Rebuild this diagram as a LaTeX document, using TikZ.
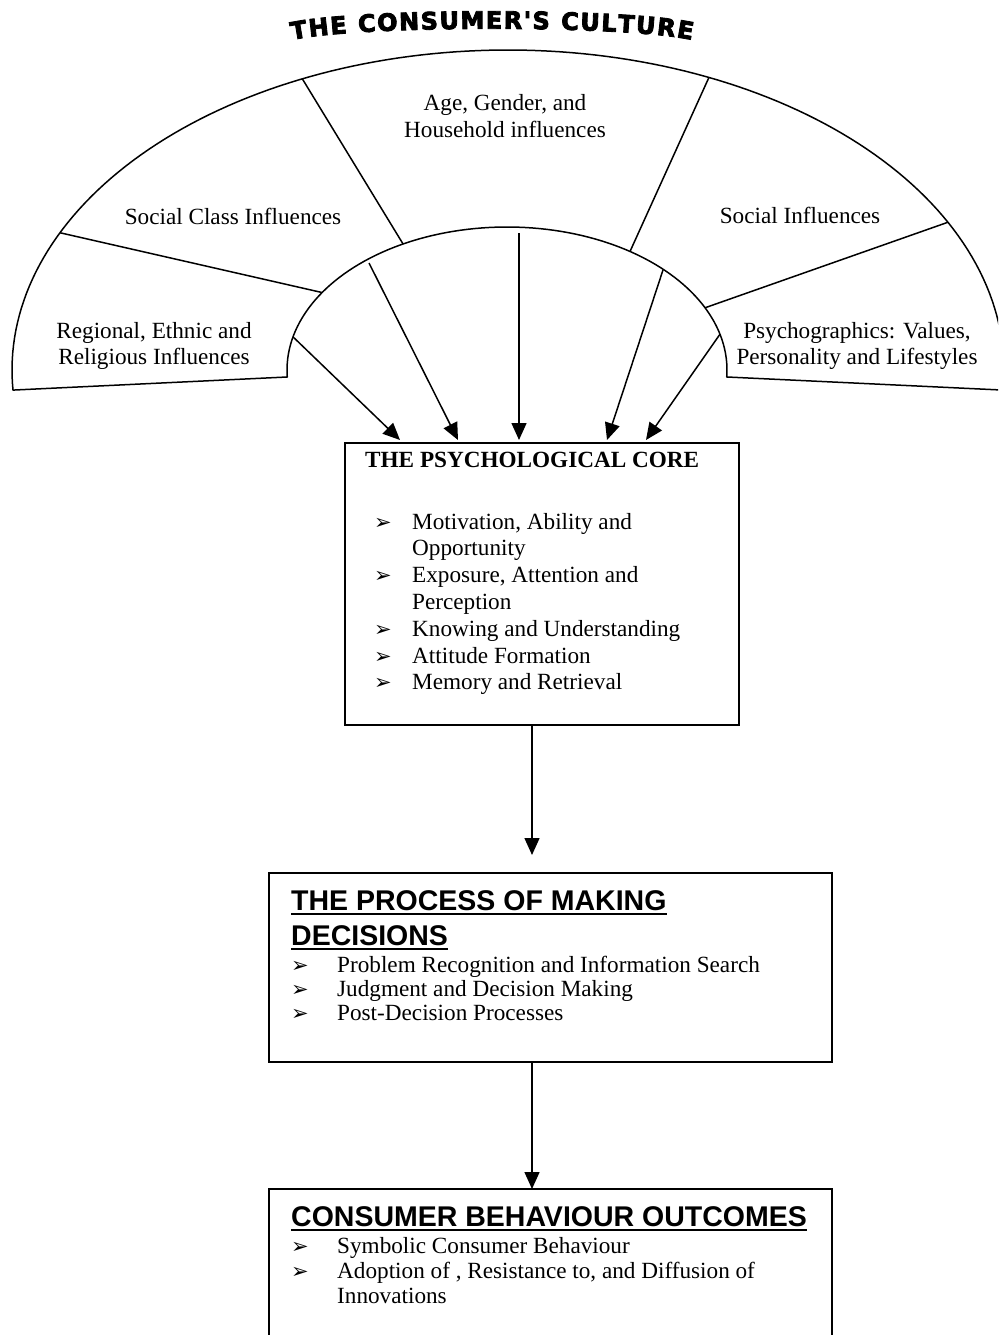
\documentclass[tikz,border=0pt]{standalone}
\usepackage{fontspec}
\setmainfont{Liberation Serif}
\newfontfamily\headsans{Liberation Sans}
\newfontfamily\symfont{DejaVu Sans}
\newfontfamily\archfont{DejaVu Sans}[BoldFeatures={FakeBold=3.5}]
\usetikzlibrary{arrows.meta,decorations.text}

\tikzset{
  outline/.style={line width=1.5pt, line join=round},
  flowarrow/.style={line width=1.5pt, -{Triangle[length=17pt,width=15pt]}},
  panel/.style={draw, line width=1.3pt, inner sep=0pt},
  fanlabel/.style={align=center, inner sep=0pt, font=\fontsize{23.2}{26.8}\selectfont},
  bodytext/.style={anchor=base west, inner sep=0pt, font=\fontsize{23.2}{26.8}\selectfont},
  bulletmark/.style={anchor=base west, inner sep=0pt, font=\symfont\fontsize{21}{21}\selectfont},
  heading/.style={anchor=base west, inner sep=0pt, font=\headsans\bfseries\fontsize{28.5}{34}\selectfont},
  headrule/.style={line width=2pt},
}

\begin{document}
\begin{tikzpicture}[x=1pt,y=-1pt]
\useasboundingbox (0,0) rectangle (998,1335);
\clip (0,0) rectangle (998,1335);

% arched title
\path[decorate, decoration={text along path, text align=fit to path,
  text={|\archfont\bfseries\fontsize{24}{24}\selectfont|THE CONSUMER'S CULTURE}}]
  (292,40) .. controls (360,25) and (625,25) .. (692,40);

% the fan of cultural influences: outer arc, inner arc and the two feet
\draw[outline]
  plot[domain=-3.6:183.6, samples=140] ({508+496*cos(\x)},{370-320*sin(\x)})
  -- plot[domain=182.8:-2.8, samples=100] ({507+220*cos(\x)},{370-143*sin(\x)})
  -- cycle;

% dividers between the sectors
\coordinate (o1) at ({508+496*cos(154.6)},{370-320*sin(154.6)});
\coordinate (i1) at ({507+220*cos(147.2)},{370-143*sin(147.2)});
\coordinate (o2) at ({508+496*cos(114.5)},{370-320*sin(114.5)});
\coordinate (i2) at ({507+220*cos(118.2)},{370-143*sin(118.2)});
\coordinate (o3) at ({508+496*cos(66.1)},{370-320*sin(66.1)});
\coordinate (i3) at ({507+220*cos(56)},{370-143*sin(56)});
\coordinate (o4) at ({508+496*cos(27.5)},{370-320*sin(27.5)});
\coordinate (i4) at ({507+220*cos(25.8)},{370-143*sin(25.8)});
\foreach \k in {1,...,4} \draw[outline] (o\k) -- (i\k);

% sector labels
\node[fanlabel] (agelbl) at (505,116) {Age, Gender, and\\Household influences};
\node[fanlabel] (classlbl) at (233,216) {Social Class Influences};
\node[fanlabel] (sociallbl) at (800,215) {Social Influences};
\node[fanlabel] (regionlbl) at (154,346) {Regional, Ethnic and\\Religious Influences};
\node[fanlabel] (psychlbl) at (857,346) {Psychographics: Values,\\Personality and Lifestyles};

% boxes
\node[panel, minimum width=394pt, minimum height=282pt] (core) at (542,584) {};
\node[panel, minimum width=563pt, minimum height=189pt] (decide) at (550.5,967.5) {};
\node[panel, minimum width=563pt, minimum height=211pt] (outcome) at (550.5,1294.5) {};

% influence arrows into the core
\coordinate (s1) at ({507+220*cos(166.6)},{370-143*sin(166.6)});
\coordinate (s2) at (369,263);
\coordinate (s3) at (519,233);
\coordinate (s4) at (663,270);
\coordinate (s5) at ({507+220*cos(14.5)},{370-143*sin(14.5)});
\coordinate (e1) at (400,440);
\coordinate (e2) at (458,440);
\coordinate (e3) at (519,440);
\coordinate (e4) at (607,440);
\coordinate (e5) at (646,440);
\foreach \k in {1,...,5} \draw[flowarrow] (s\k) -- (e\k);

% psychological core contents
\node[anchor=base west, inner sep=0pt, font=\bfseries\fontsize{23.2}{26.8}\selectfont] (coretitle) at (365,467) {THE PSYCHOLOGICAL CORE};
\foreach \y [count=\n] in {529,582.6,636.2,663,689.8}
  \node[bulletmark] (cb\n) at (374,\y) {➢};
\node[bodytext] (ci1) at (412,529) {Motivation, Ability and};
\node[bodytext] (ci1b) at (412,555.8) {Opportunity};
\node[bodytext] (ci2) at (412,582.6) {Exposure, Attention and};
\node[bodytext] (ci2b) at (412,609.4) {Perception};
\node[bodytext] (ci3) at (412,636.2) {Knowing and Understanding};
\node[bodytext] (ci4) at (412,663) {Attitude Formation};
\node[bodytext] (ci5) at (412,689.8) {Memory and Retrieval};

% decision process contents
\node[heading] (dh1) at (291,910) {THE PROCESS OF MAKING\ };
\node[heading] (dh2) at (291,945) {DECISIONS};
\draw[headrule] ([yshift=-4pt]dh1.base west) -- ([yshift=-4pt]dh1.base east);
\draw[headrule] ([yshift=-4pt]dh2.base west) -- ([yshift=-4pt]dh2.base east);
\foreach \y [count=\n] in {972,996.3,1020.6}
  \node[bulletmark] (db\n) at (291,\y) {➢};
\node[bodytext] (di1) at (337,972) {Problem Recognition and Information Search};
\node[bodytext] (di2) at (337,996.3) {Judgment and Decision Making};
\node[bodytext] (di3) at (337,1020.6) {Post-Decision Processes};

% outcome contents
\node[heading] (oh) at (291,1226) {CONSUMER BEHAVIOUR OUTCOMES};
\draw[headrule] ([yshift=-4pt]oh.base west) -- ([yshift=-4pt]oh.base east);
\foreach \y [count=\n] in {1253,1278}
  \node[bulletmark] (ob\n) at (291,\y) {➢};
\node[bodytext] (oi1) at (337,1253) {Symbolic Consumer Behaviour};
\node[bodytext] (oi2) at (337,1278) {Adoption of , Resistance to, and Diffusion of};
\node[bodytext] (oi2b) at (337,1303) {Innovations};

% flow between the boxes
\coordinate (f1a) at (532,725);
\coordinate (f1b) at (532,855);
\coordinate (f2a) at (532,1062);
\coordinate (f2b) at (532,1189);
\draw[flowarrow] (f1a) -- (f1b);
\draw[flowarrow] (f2a) -- (f2b);
\end{tikzpicture}
\end{document}
